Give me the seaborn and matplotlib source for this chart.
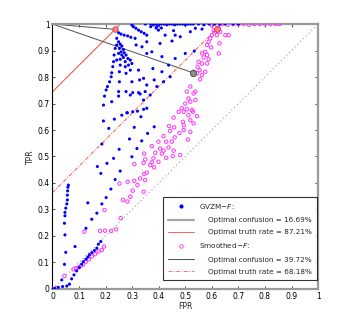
import numpy as np
import pandas as pd
import seaborn as sns
import matplotlib
matplotlib.use('Agg')
import matplotlib.pyplot as plt
from matplotlib.lines import Line2D

# GVZM-F ROC points (FPR, TPR)
gvzm_fpr = [0.060, 0.058, 0.057, 0.056, 0.056, 0.054, 0.050, 0.047, 0.047, 0.045, 0.047, 0.050, 0.045, 0.035, 0.022, 0.009, 0.0,
            0.038, 0.054, 0.064, 0.072, 0.081, 0.091, 0.101, 0.110, 0.116, 0.126, 0.133, 0.139, 0.148, 0.158, 0.167, 0.173, 0.182,
            0.085, 0.126, 0.148, 0.167, 0.133, 0.186, 0.202, 0.220, 0.236, 0.182, 0.255, 0.205, 0.230, 0.299, 0.251, 0.318,
            0.186, 0.290, 0.336, 0.358, 0.212, 0.308, 0.383, 0.192, 0.233, 0.261, 0.282, 0.302, 0.320, 0.333, 0.169,
            0.192, 0.196, 0.202, 0.207, 0.215, 0.221, 0.223, 0.227, 0.230, 0.232, 0.236,
            0.223, 0.249, 0.249, 0.252, 0.252, 0.255, 0.242, 0.255,
            0.280, 0.343, 0.277, 0.302, 0.324, 0.349, 0.293, 0.330,
            0.299, 0.328, 0.277, 0.293, 0.324, 0.274, 0.286, 0.299, 0.274, 0.293, 0.284, 0.267, 0.261, 0.277, 0.249,
            0.258, 0.270, 0.252, 0.267, 0.242, 0.261, 0.255, 0.249, 0.242,
            0.249, 0.258, 0.270, 0.283, 0.295, 0.311, 0.315, 0.337, 0.355,
            0.299, 0.305, 0.314, 0.324, 0.334, 0.345, 0.355,
            0.393, 0.399, 0.424, 0.462, 0.481, 0.519, 0.538, 0.355, 0.405, 0.374, 0.500, 0.412, 0.462, 0.437, 0.378,
            0.412, 0.343, 0.383, 0.418, 0.355, 0.393, 0.368, 0.343, 0.355,
            0.456, 0.563, 0.450, 0.534, 0.443,
            0.350, 0.370, 0.380, 0.390, 0.400, 0.410, 0.420, 0.430, 0.440, 0.450, 0.460, 0.470, 0.480, 0.490,
            0.500, 0.510, 0.520, 0.530, 0.550, 0.570, 0.590, 0.610, 0.630, 0.650, 0.680, 0.700, 0.370, 0.390, 0.410]
gvzm_tpr = [0.392, 0.384, 0.370, 0.354, 0.336, 0.321, 0.305, 0.289, 0.276, 0.248, 0.204, 0.138, 0.093, 0.034, 0.006, 0.002, 0.0,
            0.009, 0.011, 0.018, 0.038, 0.053, 0.068, 0.081, 0.093, 0.103, 0.112, 0.120, 0.129, 0.137, 0.145, 0.154, 0.169, 0.179,
            0.160, 0.229, 0.263, 0.286, 0.325, 0.321, 0.345, 0.377, 0.413, 0.436, 0.445, 0.474, 0.493, 0.499, 0.527, 0.530,
            0.547, 0.566, 0.559, 0.587, 0.606, 0.610, 0.612, 0.634, 0.641, 0.656, 0.665, 0.669, 0.671, 0.650, 0.462,
            0.694, 0.728, 0.751, 0.764, 0.782, 0.801, 0.816, 0.839, 0.858, 0.883, 0.908,
            0.707, 0.728, 0.745, 0.782, 0.820, 0.845, 0.864, 0.867,
            0.665, 0.678, 0.745, 0.741, 0.741, 0.745, 0.732, 0.736,
            0.782, 0.789, 0.814, 0.826, 0.826, 0.839, 0.845, 0.851, 0.858, 0.864, 0.870, 0.874, 0.883, 0.883, 0.889,
            0.895, 0.892, 0.908, 0.904, 0.921, 0.917, 0.924, 0.933, 0.946,
            0.967, 0.962, 0.958, 0.955, 0.950, 0.946, 0.921, 0.914, 0.889,
            0.996, 0.990, 0.984, 0.977, 0.971, 0.965, 0.958,
            0.990, 0.977, 0.958, 0.958, 0.952, 0.971, 0.984, 0.933, 0.927, 0.895, 0.889, 0.877, 0.870, 0.845, 0.832,
            0.820, 0.795, 0.789, 0.782, 0.770, 0.764, 0.732, 0.713, 0.682,
            0.975, 0.981, 0.936, 0.898, 0.801,
            1.0, 1.0, 0.997, 1.0, 0.997, 1.0, 1.0, 0.997, 1.0, 1.0, 0.997, 1.0, 1.0, 1.0,
            0.997, 1.0, 1.0, 1.0, 1.0, 0.997, 1.0, 1.0, 1.0, 1.0, 1.0, 1.0, 0.990, 0.985, 0.985]

# Smoothed-F ROC points
smooth_fpr = [0.0, 0.015, 0.045, 0.079, 0.089, 0.098, 0.108, 0.116, 0.126, 0.137, 0.148, 0.160, 0.173, 0.186, 0.194,
              0.120, 0.179, 0.198, 0.221, 0.240, 0.257, 0.196, 0.265, 0.282, 0.293, 0.302, 0.343, 0.320, 0.252, 0.283,
              0.308, 0.330, 0.349, 0.355, 0.345, 0.308, 0.368, 0.349, 0.345, 0.343, 0.383, 0.374, 0.399, 0.380, 0.428,
              0.453, 0.412, 0.387, 0.481, 0.418, 0.456, 0.405, 0.437, 0.374, 0.399, 0.428, 0.449, 0.510, 0.460, 0.418,
              0.519, 0.478, 0.443, 0.494, 0.458, 0.439, 0.494, 0.531, 0.491, 0.519, 0.456, 0.544, 0.512, 0.475, 0.494, 0.529,
              0.487, 0.506, 0.525, 0.500, 0.519, 0.538, 0.512, 0.531, 0.506, 0.538, 0.519, 0.556, 0.563, 0.544, 0.531,
              0.575, 0.554, 0.546, 0.563, 0.582, 0.550, 0.588, 0.569, 0.582, 0.563, 0.626, 0.575, 0.597, 0.582, 0.629,
              0.588, 0.594, 0.600, 0.619, 0.651, 0.663, 0.613, 0.632, 0.607, 0.626,
              0.600, 0.620, 0.640, 0.660, 0.680, 0.700, 0.720, 0.740, 0.760, 0.780, 0.800, 0.820, 0.840, 0.855]
smooth_tpr = [0.0, 0.003, 0.049, 0.074, 0.078, 0.081, 0.088, 0.093, 0.103, 0.112, 0.122, 0.131, 0.141, 0.147, 0.160,
              0.216, 0.219, 0.220, 0.219, 0.225, 0.267, 0.298, 0.336, 0.330, 0.348, 0.371, 0.367, 0.392, 0.398, 0.405,
              0.408, 0.417, 0.411, 0.439, 0.434, 0.471, 0.467, 0.489, 0.511, 0.476, 0.459, 0.478, 0.480, 0.493, 0.495,
              0.501, 0.511, 0.514, 0.505, 0.522, 0.522, 0.530, 0.534, 0.539, 0.556, 0.556, 0.556, 0.564, 0.572, 0.577,
              0.593, 0.589, 0.597, 0.600, 0.610, 0.615, 0.618, 0.625, 0.631, 0.637, 0.647, 0.652, 0.656, 0.669, 0.669, 0.669,
              0.682, 0.678, 0.675, 0.700, 0.707, 0.713, 0.719, 0.738, 0.745, 0.745, 0.764, 0.791, 0.807, 0.814, 0.820,
              0.820, 0.826, 0.839, 0.851, 0.851, 0.858, 0.867, 0.874, 0.883, 0.889, 0.889, 0.895, 0.912, 0.921, 0.927,
              0.933, 0.946, 0.958, 0.958, 0.958, 0.958, 0.971, 0.971, 0.977, 0.984,
              0.995, 0.997, 1.0, 0.997, 1.0, 1.0, 1.0, 0.997, 1.0, 1.0, 1.0, 1.0, 1.0, 1.0]

# optimal operating points and lines
gvzm_opt = (0.236, 0.980)
smooth_conf_opt = (0.529, 0.816)
smooth_truth_opt = (0.619, 0.983)
gvzm_truth_offset = 0.7442   # TPR - FPR on the optimal truth rate line
smooth_truth_offset = 0.3636

ticks = [0, 0.1, 0.2, 0.3, 0.4, 0.5, 0.6, 0.7, 0.8, 0.9, 1]
tick_labels = ['0', '0.1', '0.2', '0.3', '0.4', '0.5', '0.6', '0.7', '0.8', '0.9', '1']

legend_labels = ['GVZM\u2212$F$:', '    Optimal confusion = 16.69%', '    Optimal truth rate = 87.21%',
                 'Smoothed\u2212$F$:', '    Optimal confusion = 39.72%', '    Optimal truth rate = 68.18%']

sns.set_style('ticks')
plt.rcParams['font.family'] = ['DejaVu Sans']

fig = plt.figure(figsize=(3.57, 3.25), dpi=100)
ax = fig.add_axes([0.147, 0.111, 0.744, 0.815])

# chance diagonal
ax.plot([0, 1], [0, 1], ls=(0, (1, 2.5)), color='#a0a0a0', lw=0.8, zorder=1)

# optimal truth rate lines
ax.plot([0, 1 - gvzm_truth_offset], [gvzm_truth_offset, 1], color='#ff4040', lw=0.7, zorder=2)
ax.plot([0, 1 - smooth_truth_offset], [smooth_truth_offset, 1], color='#ff5050', lw=0.7,
        ls=(0, (4, 1.5, 1, 1.5)), zorder=2)

# optimal confusion lines
ax.plot([0, gvzm_opt[0]], [1, gvzm_opt[1]], color='#505050', lw=0.7, zorder=2)
ax.plot([0, smooth_conf_opt[0]], [1, smooth_conf_opt[1]], color='#505050', lw=0.7, zorder=2)

gv = pd.DataFrame({'FPR': gvzm_fpr, 'TPR': gvzm_tpr})
sm = pd.DataFrame({'FPR': smooth_fpr, 'TPR': smooth_tpr})
sns.scatterplot(data=sm, x='FPR', y='TPR', ax=ax, marker='o', s=6, facecolor='none',
                edgecolor='#ff33ff', linewidth=0.7, zorder=3)
sns.scatterplot(data=gv, x='FPR', y='TPR', ax=ax, marker='o', s=5, color='#0000ff',
                edgecolor='none', linewidth=0, zorder=4)

# optimal point markers
ax.plot(*gvzm_opt, marker='o', ms=4, mfc='#ff8080', mec='#d04040', mew=0.6, zorder=5)
ax.plot(*smooth_truth_opt, marker='o', ms=4, mfc='#ff8080', mec='#d04040', mew=0.6, zorder=5)
ax.plot(*smooth_conf_opt, marker='o', ms=4.5, mfc='#909090', mec='#404040', mew=0.6, zorder=5)

ax.set_xlim(0, 1)
ax.set_ylim(0, 1)
ax.set_xticks(ticks, tick_labels)
ax.set_yticks(ticks, tick_labels)
ax.tick_params(axis='both', direction='in', length=2.5, width=0.6, labelsize=5.5, pad=2,
               color='#333333', labelcolor='black')
ax.tick_params(top=True, right=True)
ax.set_xlabel('FPR', fontsize=5.5, labelpad=1)
ax.set_ylabel('TPR', fontsize=5.5, labelpad=2)

for side in ['top', 'bottom', 'right']:
    ax.spines[side].set_color('#9a9a9a')
    ax.spines[side].set_linewidth(1.6)
ax.spines['left'].set_color('black')
ax.spines['left'].set_linewidth(0.8)

handles = [Line2D([], [], ls='none', marker='o', ms=2, color='#0000ff'),
           Line2D([], [], color='#a8a8a8', lw=1.6),
           Line2D([], [], color='#ff6060', lw=0.7),
           Line2D([], [], ls='none', marker='o', ms=2.5, mfc='none', mec='#ff33ff', mew=0.6),
           Line2D([], [], color='#505050', lw=0.7),
           Line2D([], [], color='#ff7070', lw=0.7, ls=(0, (4, 1.5, 1, 1.5)))]
leg = ax.legend(handles, legend_labels, loc='lower right', bbox_to_anchor=(0.997, 0.034),
                fontsize=5.2, frameon=True, fancybox=False, borderaxespad=0,
                handlelength=3.6, handletextpad=0.8, labelspacing=0.85,
                borderpad=0.7, edgecolor='black')
leg.get_frame().set_linewidth(0.8)
leg.set_zorder(10)

plt.savefig('out.png', dpi=100)
